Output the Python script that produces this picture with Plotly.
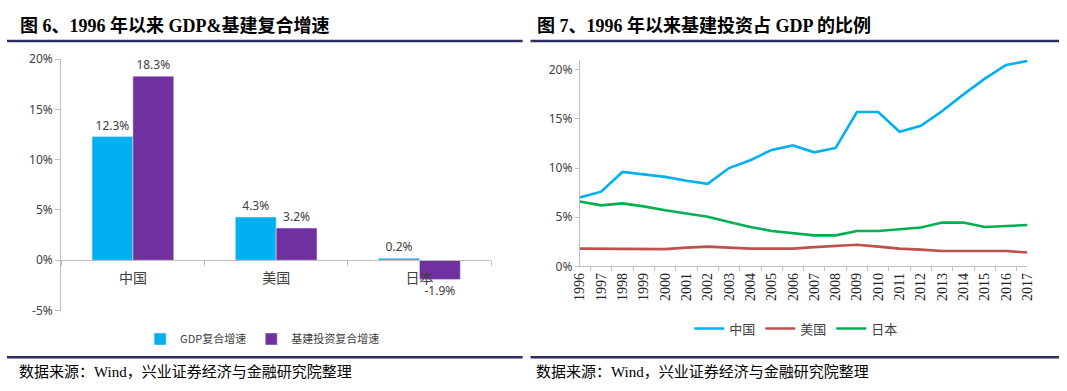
import plotly.graph_objects as go

W, H = 1067, 391

# ---- data: left chart ----
countries = ["中国", "美国", "日本"]
gdp_cagr = [12.3, 4.3, 0.2]
infra_cagr = [18.3, 3.2, -1.9]
left_ticks = [-5, 0, 5, 10, 15, 20]

# ---- data: right chart ----
years = [str(y) for y in range(1996, 2018)]
china_share = [7.0, 7.6, 9.6, 9.35, 9.1, 8.7, 8.4, 10.0, 10.8, 11.85, 12.3, 11.6,
               12.05, 15.7, 15.7, 13.7, 14.3, 15.8, 17.5, 19.1, 20.5, 20.9]
us_share = [1.8, 1.8, 1.75, 1.75, 1.75, 1.9, 2.0, 1.9, 1.8, 1.8, 1.8, 1.95,
            2.1, 2.2, 2.0, 1.8, 1.7, 1.55, 1.55, 1.55, 1.55, 1.4]
japan_share = [6.6, 6.2, 6.4, 6.1, 5.7, 5.35, 5.05, 4.5, 4.0, 3.6, 3.35, 3.15,
               3.15, 3.6, 3.6, 3.75, 3.95, 4.45, 4.45, 4.0, 4.1, 4.2]
right_ticks = [0, 5, 10, 15, 20]

BLUE = "#00B0F0"
PURPLE = "#7030A0"
RED = "#C0504D"
GREEN = "#00B050"
AX = "#BFBFBF"
TXT = "#404040"
NAVY = "#2E2E5E"
SANS = "Noto Sans, Open Sans, Noto Sans CJK SC, sans-serif"
SERIF = "Liberation Serif, Times New Roman, Noto Sans CJK SC, serif"


def px(x):
    return x / W


def py(y):
    return (H - y) / H


def bar_label(v):
    # negative labels sit a little further below the bar, as in the reference
    return f"{v:.1f}%" if v >= 0 else f"<br>{v:.1f}%"


fig = go.Figure()

fig.add_trace(go.Bar(
    x=countries, y=gdp_cagr, name="GDP复合增速", marker_color=BLUE,
    text=[bar_label(v) for v in gdp_cagr], textposition="outside",
    textfont=dict(family=SANS, size=12, color=TXT), cliponaxis=False,
    xaxis="x", yaxis="y", legend="legend"))
fig.add_trace(go.Bar(
    x=countries, y=infra_cagr, name="基建投资复合增速", marker_color=PURPLE,
    text=[bar_label(v) for v in infra_cagr], textposition="outside",
    textfont=dict(family=SANS, size=12, color=TXT), cliponaxis=False,
    xaxis="x", yaxis="y", legend="legend"))

for name, vals, col in [("中国", china_share, BLUE), ("美国", us_share, RED), ("日本", japan_share, GREEN)]:
    fig.add_trace(go.Scatter(
        x=years, y=vals, name=name, mode="lines",
        line=dict(color=col, width=2.6), xaxis="x2", yaxis="y2", legend="legend2"))

fig.update_layout(
    width=W, height=H, autosize=False,
    margin=dict(l=0, r=0, t=0, b=0),
    paper_bgcolor="white", plot_bgcolor="white",
    barmode="group", bargap=0.43, bargroupgap=0,
    xaxis=dict(
        domain=[px(55), px(491)], anchor="free", position=py(262),
        showline=True, linecolor=AX, linewidth=1,
        ticks="outside", tickson="boundaries", ticklen=5, tickcolor=AX,
        ticklabelstandoff=6,
        tickfont=dict(family=SANS, size=14, color=TXT), showgrid=False,
    ),
    yaxis=dict(
        domain=[py(315.3), py(52.3)], range=[-5, 20],
        tickmode="array", tickvals=left_ticks, ticktext=[f"{t}%" for t in left_ticks],
        showline=True, linecolor=AX, linewidth=1,
        ticks="outside", ticklen=5, tickcolor=AX,
        tickfont=dict(family=SANS, size=12, color=TXT),
        showgrid=False, zeroline=False,
    ),
    xaxis2=dict(
        domain=[px(581), px(1035)], anchor="y2", type="category",
        showline=True, linecolor=AX, linewidth=1,
        ticks="outside", tickson="boundaries", ticklen=4, tickcolor=AX,
        tickangle=-90, tickfont=dict(family=SERIF, size=14, color="#222222"),
        showgrid=False,
    ),
    yaxis2=dict(
        domain=[py(269), py(53.3)], anchor="x2", range=[0, 21],
        tickmode="array", tickvals=right_ticks, ticktext=[f"{t}%" for t in right_ticks],
        showline=True, linecolor=AX, linewidth=1,
        ticks="outside", ticklen=4, tickcolor=AX,
        tickfont=dict(family=SANS, size=12, color=TXT),
        showgrid=False, zeroline=False,
    ),
    legend=dict(
        orientation="h", x=px(135), y=py(345), xanchor="left", yanchor="middle",
        font=dict(family="Noto Sans CJK SC, sans-serif", size=11, color=TXT),
        bgcolor="rgba(0,0,0,0)", itemwidth=30, tracegroupgap=0,
    ),
    legend2=dict(
        orientation="h", x=px(692), y=py(334), xanchor="left", yanchor="middle",
        font=dict(family="Noto Sans CJK SC, sans-serif", size=13, color=TXT),
        bgcolor="rgba(0,0,0,0)", itemwidth=30,
    ),
    showlegend=True,
)

shapes = []
for x0, x1 in [(0, 523), (531, 1067)]:
    for yy in (33.5, 364):
        shapes.append(dict(type="line", xref="paper", yref="paper",
                           x0=px(x0), x1=px(x1), y0=py(yy), y1=py(yy),
                           line=dict(color=NAVY, width=2.5)))
fig.update_layout(shapes=shapes)

annos = [
    dict(text="<b>图 6、1996 年以来 GDP&基建复合增速</b>", x=px(11), y=py(17)),
    dict(text="<b>图 7、1996 年以来基建投资占 GDP 的比例</b>", x=px(536), y=py(17)),
    dict(text="数据来源：Wind，兴业证券经济与金融研究院整理", x=px(10), y=py(379), size=15),
    dict(text="数据来源：Wind，兴业证券经济与金融研究院整理", x=px(535), y=py(379), size=15),
]
for a in annos:
    fig.add_annotation(
        text=a["text"], x=a["x"], y=a["y"], xref="paper", yref="paper",
        xanchor="left", yanchor="middle", showarrow=False,
        font=dict(family=SERIF, size=a.get("size", 18), color="#000000"))

fig.write_html("out.html", config={"displayModeBar": False},
               post_script="document.body.style.margin='0';")
